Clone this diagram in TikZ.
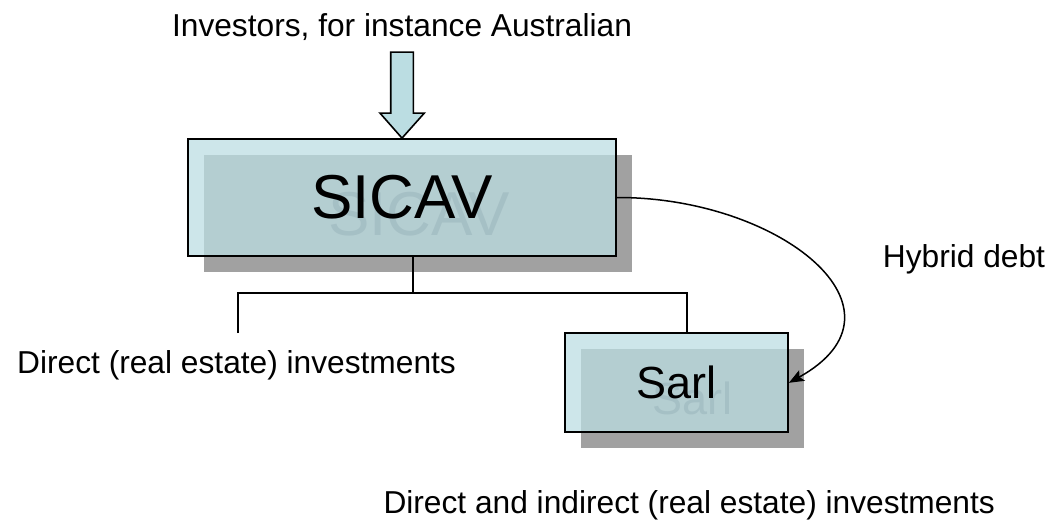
\documentclass[tikz,border=0pt]{standalone}
\usepackage{fontspec}
\setmainfont{Liberation Sans}
\usetikzlibrary{shadows,arrows.meta,calc}
\definecolor{boxblue}{RGB}{187,221,226}
\definecolor{ghostblue}{RGB}{165,192,197}
\pgfdeclarelayer{back}
\pgfsetlayers{back,main}

\begin{document}
\begin{tikzpicture}[x=1pt,y=-1pt,
  entity/.style={draw=black, line width=1.8pt, fill=boxblue, fill opacity=0.74,
    draw opacity=1, text opacity=1, inner sep=0pt,
    drop shadow={shadow xshift=16pt, shadow yshift=-16pt, fill=black, opacity=0.37}},
  ghosttext/.style={inner sep=0pt, text=ghostblue},
  label/.style={inner sep=0pt, font=\fontsize{31.7}{31.7}\selectfont},
  conn/.style={draw=black, line width=1.8pt},
  curvy/.style={draw=black, line width=1.5pt, -{Stealth[length=15pt,width=12pt,inset=3pt]}},
  fatarrow/.style={draw=black, line width=1.6pt, fill=boxblue, line join=miter}
]
\useasboundingbox (0,0) rectangle (1051,520);

% main fund box
\node[entity, minimum width=428pt, minimum height=117pt] (sicav) at (402,197.5) {};
\node[ghosttext, font=\fontsize{62}{62}\selectfont] at ($(sicav)+(17,17)$) {SICAV};
\node[inner sep=0pt, font=\fontsize{62}{62}\selectfont] (sicavtxt) at (sicav) {SICAV};

% investors and inflow arrow
\node[label, anchor=base] (inv) at (402,36.7) {Investors, for instance Australian};
\draw[fatarrow] (sicav.north) -- ++(22.3,-25) -- ++(-11,0) -- ++(0,-61)
  -- ++(-22.6,0) -- ++(0,61) -- ++(-10.7,0) -- cycle;

% side labels
\node[label, anchor=base west] (direct) at (17,373) {Direct (real estate) investments};
\node[label, anchor=base west] (hybrid) at (882.7,267.3) {Hybrid debt};
\node[label, anchor=base west] (indirect) at (383.3,513) {Direct and indirect (real estate) investments};

\begin{pgfonlayer}{back}
  % subsidiary box
  \node[entity, minimum width=223pt, minimum height=99pt] (sarl) at (676.5,382.8) {};
  \node[ghosttext, font=\fontsize{45}{45}\selectfont] at ($(sarl)+(16,16)$) {Sarl};
  \node[inner sep=0pt, font=\fontsize{45}{45}\selectfont] (sarltxt) at (sarl) {Sarl};

  % ownership tree
  \coordinate (j) at (413,293);
  \coordinate (dl) at (237.7,333);
  \coordinate (sj) at (687,293);
  \draw[conn] (sicav.south -| j) -- (j);
  \draw[conn] (dl) |- (sj) -- (sj |- sarl.north);

  % hybrid debt loan
  \draw[curvy] (sicav.east) .. controls (780,197) and (920,310) .. (sarl.east);
\end{pgfonlayer}
\end{tikzpicture}
\end{document}
